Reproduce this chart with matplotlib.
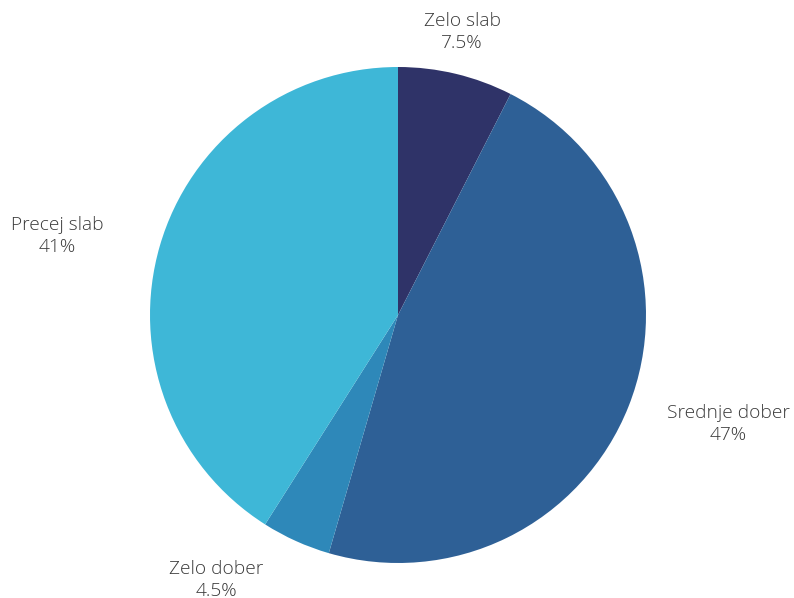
import matplotlib.pyplot as plt

labels = ['Zelo slab', 'Srednje dober', 'Zelo dober', 'Precej slab']
values = [7.5, 47, 4.5, 41]
pct_text = ['7.5%', '47%', '4.5%', '41%']
colors = ['#2f3368', '#2e6096', '#2e88b9', '#3eb7d7']

# label anchor points in pixel coords (x, y from top)
label_pos = [(462, 32), (728, 424), (216, 580), (57, 236)]

fig = plt.figure(figsize=(7.94, 5.98), dpi=100)
ax = fig.add_axes([0, 0, 1, 1])

ax.pie(values, colors=colors, startangle=90, counterclock=False,
       center=(398, 598 - 315), radius=248, frame=True,
       wedgeprops={'linewidth': 0})
ax.set_xlim(0, 794)
ax.set_ylim(0, 598)
ax.set_aspect('equal')
ax.axis('off')

for lab, pct, (x, y) in zip(labels, pct_text, label_pos):
    ax.text(x, 598 - y, lab + '\n' + pct, ha='center', va='center',
            fontsize=13.8, color='#3a3a3a', family='Open Sans',
            fontweight='light', linespacing=1.32)

fig.savefig('out.png', dpi=100)
